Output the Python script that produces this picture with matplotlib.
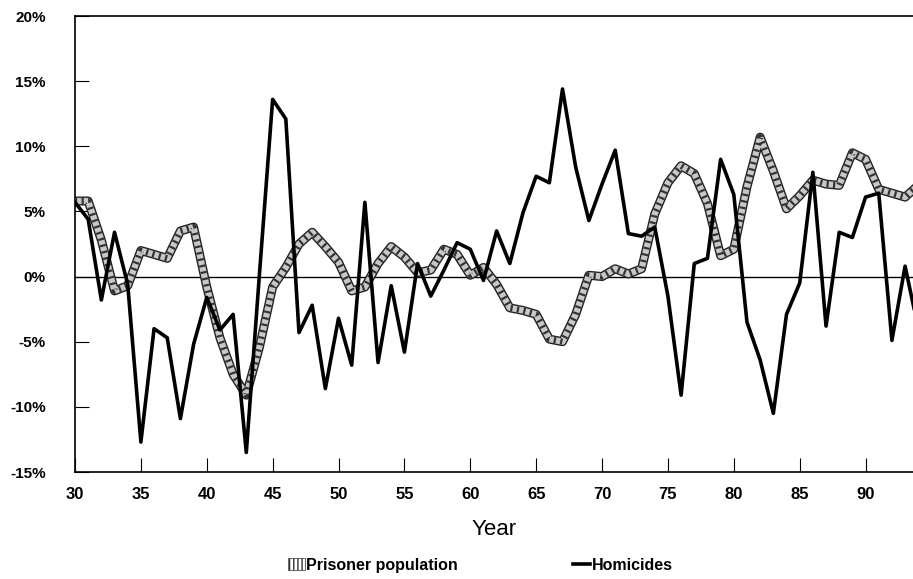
import matplotlib.pyplot as plt
from matplotlib.lines import Line2D
from matplotlib.patches import Patch

plt.rcParams['font.family'] = ['Liberation Sans Narrow', 'Liberation Sans', 'DejaVu Sans']
plt.rcParams['hatch.linewidth'] = 1.0

years = list(range(30, 95))

# annual % change
homicides = [5.7, 4.4, -1.8, 3.4, -0.6, -12.7, -4.0, -4.7, -10.9, -5.2,
             -1.6, -4.1, -2.9, -13.5, 0.2, 13.6, 12.1, -4.3, -2.2, -8.6,
             -3.2, -6.8, 5.7, -6.6, -0.7, -5.8, 1.0, -1.5, 0.5, 2.6,
             2.1, -0.3, 3.5, 1.0, 4.9, 7.7, 7.2, 14.4, 8.4, 4.3,
             7.1, 9.7, 3.3, 3.1, 3.8, -1.5, -9.1, 1.0, 1.4, 9.0,
             6.3, -3.5, -6.4, -10.5, -2.9, -0.5, 8.0, -3.8, 3.4, 3.0,
             6.1, 6.4, -4.9, 0.8, -4.0]
prisoners = [5.8, 5.8, 2.8, -1.1, -0.7, 2.0, 1.7, 1.4, 3.5, 3.8,
             -0.8, -4.7, -7.5, -9.1, -5.4, -0.8, 0.7, 2.5, 3.4, 2.3,
             1.1, -1.1, -0.8, 1.0, 2.3, 1.5, 0.3, 0.5, 2.1, 1.7,
             0.1, 0.7, -0.6, -2.4, -2.6, -2.9, -4.8, -5.0, -2.9, 0.1,
             0.0, 0.6, 0.2, 0.6, 4.8, 7.2, 8.5, 7.9, 5.6, 1.6,
             2.1, 6.9, 10.7, 8.1, 5.2, 6.2, 7.4, 7.1, 7.0, 9.5,
             9.0, 6.7, 6.4, 6.1, 7.0]

yticks = [-15, -10, -5, 0, 5, 10, 15, 20]
ytick_labels = ['-15%', '-10%', '-5%', '0%', '5%', '10%', '15%', '20%']
xticks = list(range(30, 95, 5))
xtick_labels = [str(x) for x in xticks]

fig = plt.figure(figsize=(9.13, 5.79), dpi=100)
ax = fig.add_axes([75 / 913, 1 - 472 / 579, 1 - 75 / 913, (472 - 16) / 579])

ax.axhline(0, color='black', lw=1.0, zorder=1)

# hatched "prisoner" band: dark outline, grey fill, striped overlay
ax.plot(years, prisoners, color='#222222', lw=6.5, solid_joinstyle='round', zorder=2)
ax.plot(years, prisoners, color='#c8c8c8', lw=4.5, solid_joinstyle='round', zorder=3)
ax.plot(years, prisoners, color='#333333', lw=4.5, dashes=(0.35, 0.7), zorder=4)

ax.plot(years, homicides, color='black', lw=2.6, zorder=5)

ax.set_xlim(30, 93.6)
ax.set_ylim(-15, 20)
ax.set_xticks(xticks)
ax.set_xticklabels(xtick_labels, fontsize=12, fontweight='bold')
ax.set_yticks(yticks)
ax.set_yticklabels(ytick_labels, fontsize=11, fontweight='bold')
ax.tick_params(axis='both', direction='in', length=10, width=0.8)
ax.tick_params(axis='x', pad=11)
ax.tick_params(axis='y', pad=21)
ax.spines['right'].set_visible(False)
for s in ('top', 'left', 'bottom'):
    ax.spines[s].set_linewidth(1.2)

ax.set_xlabel('Year', fontsize=16, labelpad=12)

handles = [Patch(facecolor='white', edgecolor='#333333', hatch='||||', lw=0.5),
           Line2D([0], [0], color='black', lw=2.6)]
fig.legend(handles, ['Prisoner population', 'Homicides'], loc='center',
           bbox_to_anchor=(0.526, 0.024), ncol=2, frameon=False,
           prop={'weight': 'bold', 'size': 11.5}, handlelength=1.05,
           handletextpad=0.1, columnspacing=7.2)

fig.savefig('out.png', dpi=100)
